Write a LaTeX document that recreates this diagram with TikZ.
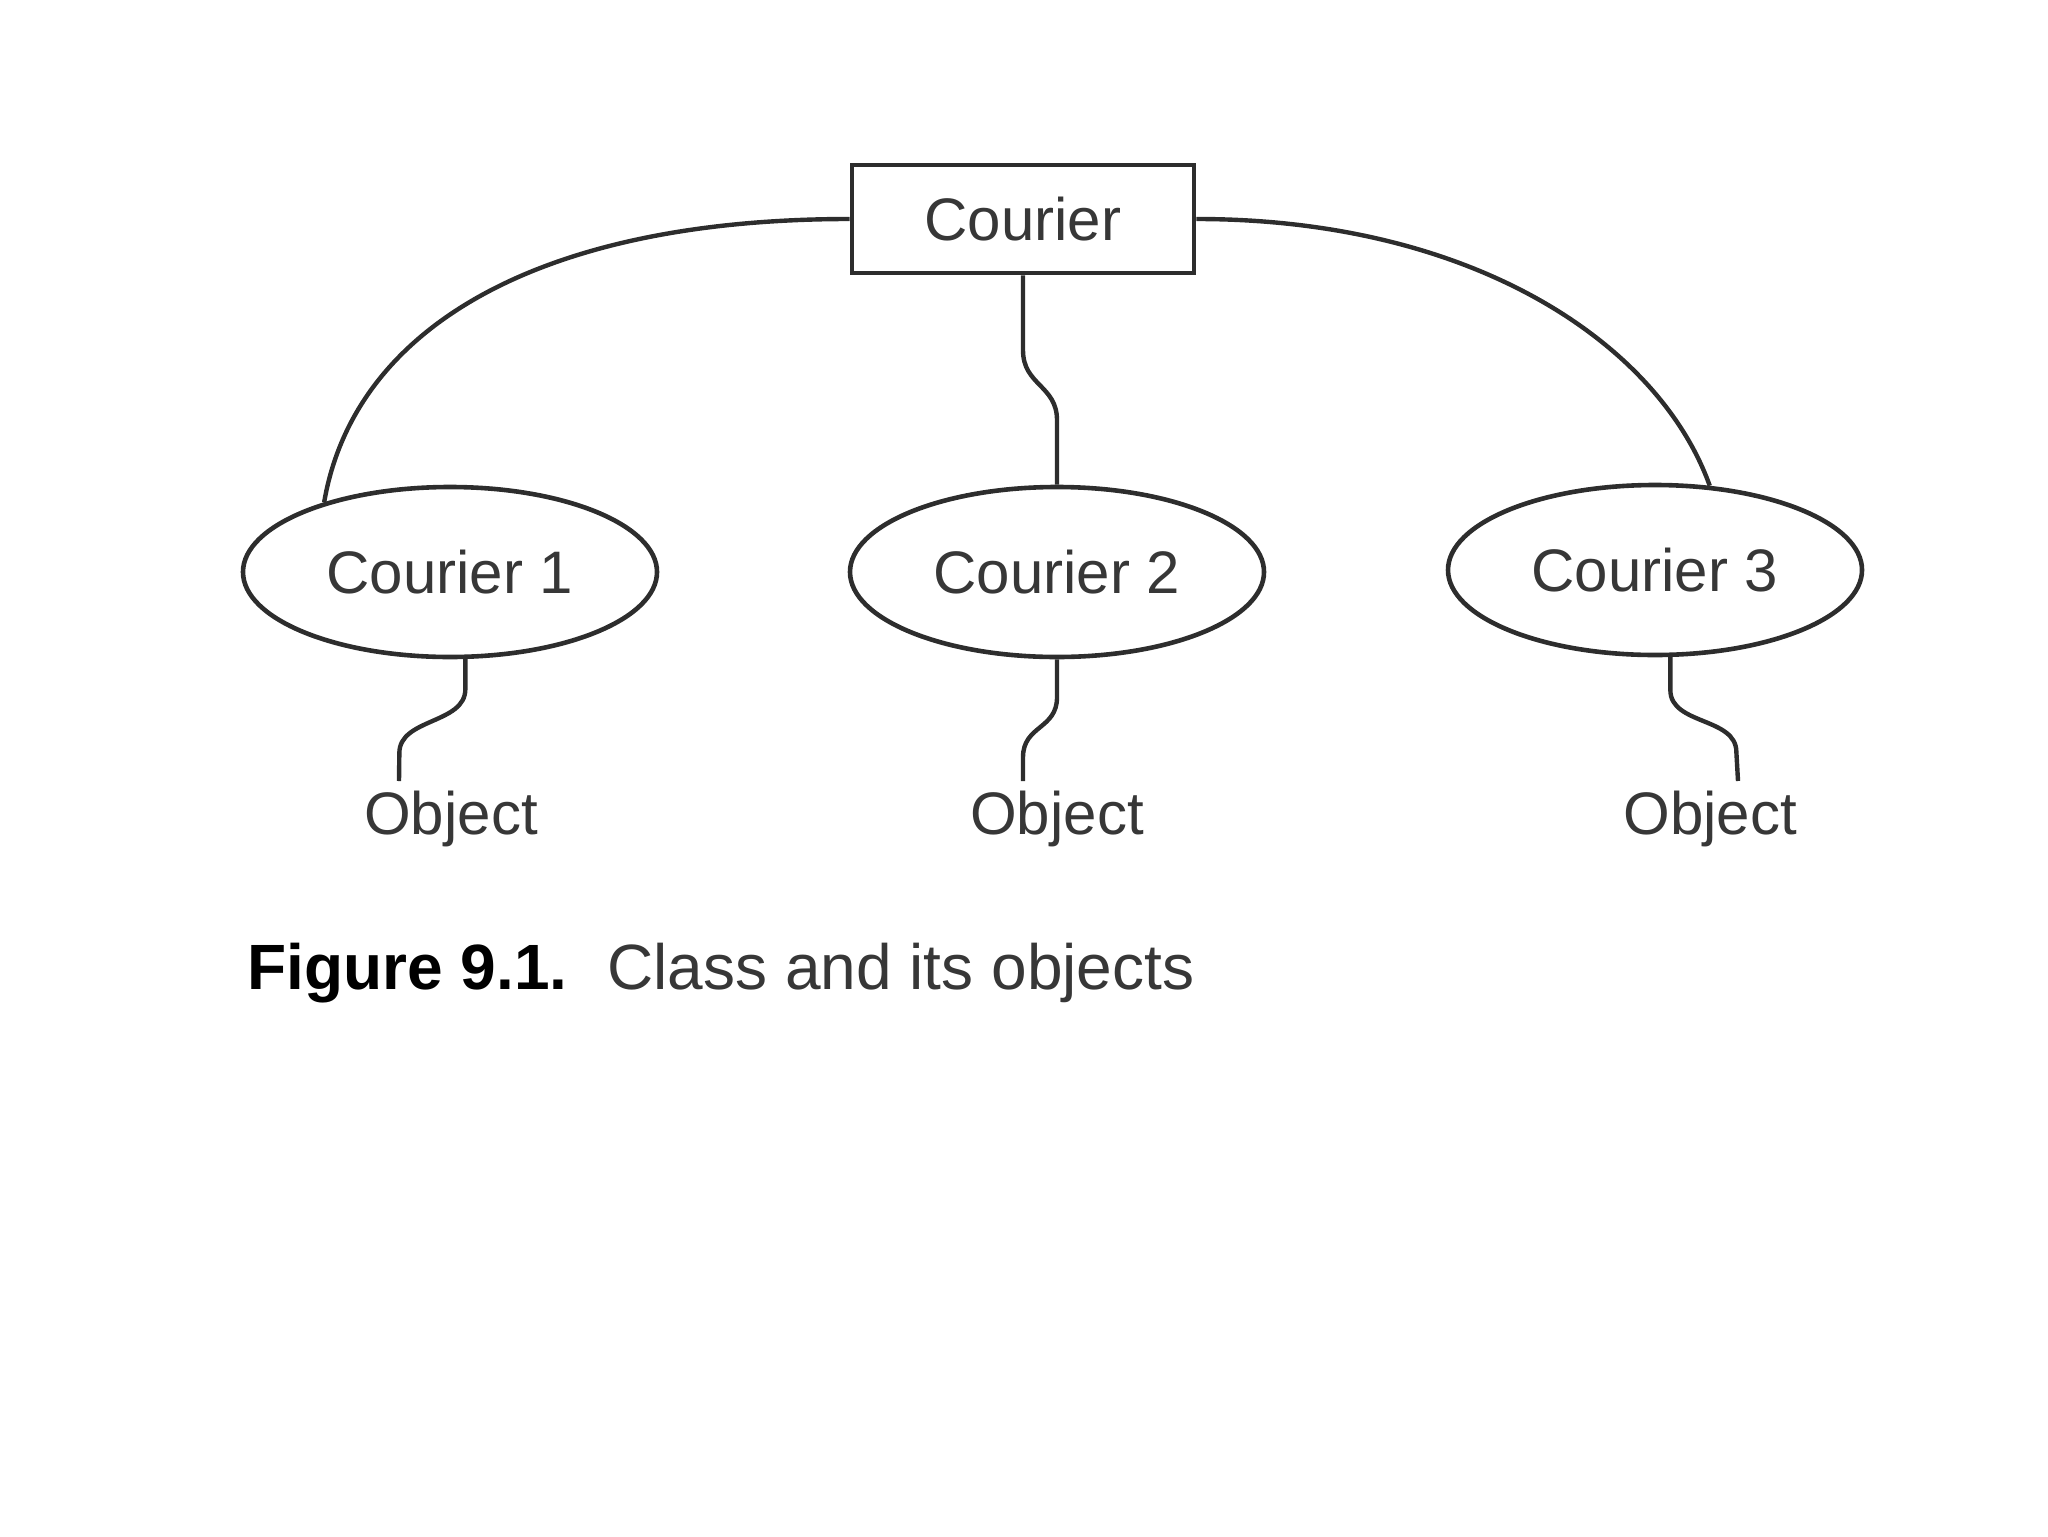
\documentclass[tikz,border=0pt]{standalone}
\usepackage{fontspec}
\setmainfont{Liberation Sans}
\usetikzlibrary{shapes.geometric}
\definecolor{inkgray}{RGB}{45,45,45}
\definecolor{textgray}{RGB}{55,55,55}
\begin{document}
\begin{tikzpicture}[x=0.5pt,y=0.5pt,yscale=-1,xscale=1,
  classbox/.style={draw=inkgray, line width=2.3pt, rectangle, minimum width=171pt, minimum height=54pt, inner sep=0pt, text=textgray, font=\fontsize{30}{36}\selectfont},
  objellipse/.style={draw=inkgray, line width=2.3pt, ellipse, minimum width=207pt, minimum height=85pt, inner sep=0pt, text=textgray, font=\fontsize{30}{36}\selectfont},
  objlabel/.style={anchor=north, inner sep=5pt, text=textgray, font=\fontsize{30}{36}\selectfont},
  link/.style={draw=inkgray, line width=2.2pt}]
\useasboundingbox (0,0) rectangle (2048,1536);

%Shape: Rectangle [class]
\node [classbox] (cls) at (1023,219) {Courier};
%Shape: Ellipse [objects]
\node [objellipse] (c1) at (450,572) {Courier 1};
\node [objellipse] (c2) at (1057,572) {Courier 2};
\node [objellipse] (c3) at (1655,570) {Courier 3};

% Text Node
\node [objlabel] (o1) at (451,781) {Object};
% Text Node
\node [objlabel] (o2) at (1057,781) {Object};
% Text Node
\node [objlabel] (o3) at (1710,781) {Object};

%Curve Lines [class to objects]
\draw [link] (cls.west) .. controls +(-310,0) and +(30,-175) .. (c1.151);
\draw [link] (cls.east) .. controls +(280,0) and +(-50,-140) .. (c3.57);
\draw [link] (cls.south) -- ++(0,75) .. controls +(0,35) and +(0,-35) .. ++(34,70) -- (c2.north);

%Curve Lines [objects to labels]
\draw [link] (c1.-80) -- ++(0,30) .. controls +(0,35) and +(0,-35) .. ++(-66,64) -- ([xshift=-26pt]o1.north);
\draw [link] (c2.south) -- ++(0,38) .. controls +(0,32) and +(0,-32) .. ++(-34,60) -- ([xshift=-17pt]o2.north);
\draw [link] (c3.-80) -- ++(0,33) .. controls +(0,35) and +(0,-35) .. ++(66,62) -- ([xshift=14pt]o3.north);

% Text Node [caption]
\node [anchor=base west, inner sep=0pt, text=textgray, font=\fontsize{32}{38}\selectfont] (cap) at (247,989) {\textcolor{black}{\textbf{Figure 9.1.}}\hspace{20pt}Class and its objects};

\end{tikzpicture}
\end{document}
